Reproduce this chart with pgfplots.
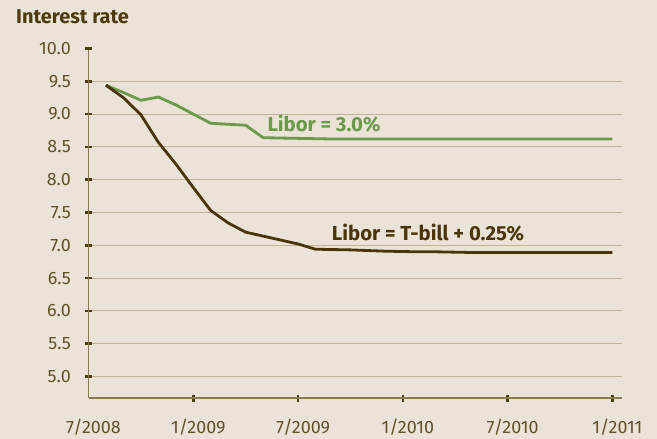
\documentclass[border=0pt]{standalone}
\usepackage{fontspec}
\setmainfont{Fira Sans}
\usepackage{pgfplots}
\pgfplotsset{compat=1.18}
\definecolor{bgcol}{HTML}{EBE3D7}
\definecolor{greencol}{HTML}{6A9A4A}
\definecolor{browncol}{HTML}{4A3508}
\definecolor{titlecol}{HTML}{4F3A0E}
\definecolor{labcol}{HTML}{62512A}
\definecolor{gridcol}{HTML}{C3B394}
\definecolor{axiscol}{HTML}{8A7A50}
\definecolor{tickcol}{HTML}{4A3A10}
\begin{document}
\begin{tikzpicture}
\fill[bgcol] (-88.5bp,-41bp) rectangle (568.5bp,398bp);
\node[anchor=base west, inner sep=0pt, text=titlecol, font=\fontsize{20}{24}\selectfont\bfseries] at (-72.5bp,374.7bp) {Interest rate};
\begin{axis}[
  at={(0,0)}, anchor=south west,
  scale only axis, width=533.5bp, height=349.5bp,
  xmin=0, xmax=30.55, ymin=4.672, ymax=10,
  clip=false,
  axis x line=bottom, axis y line=left,
  axis line style={-, draw=axiscol, line width=1.1bp},
  ytick={5,5.5,6,6.5,7,7.5,8,8.5,9,9.5},
  yticklabels={5.0,5.5,6.0,6.5,7.0,7.5,8.0,8.5,9.0,9.5},
  extra y ticks={10}, extra y tick labels={10.0},
  extra y tick style={grid=none},
  xtick={0,6,12,18,24,30},
  xticklabels={7/2008,1/2009,7/2009,1/2010,7/2010,1/2011},
  major x tick style={draw=none},
  minor xtick={6,12,18,24,30},
  minor tick length=7bp,
  minor x tick style={draw=tickcol, line width=2.6bp},
  ymajorgrids=true,
  major grid style={draw=gridcol, line width=0.9bp},
  tick align=center,
  major tick length=7bp,
  tick style={draw=tickcol, line width=2.6bp},
  yticklabel style={font=\fontsize{18}{20}\selectfont, text=labcol, anchor=east, inner sep=0pt, xshift=-14bp},
  xticklabel style={font=\fontsize{18}{20}\selectfont, text=labcol, anchor=north, inner sep=0pt, yshift=-17bp, xshift=5bp},
]
\addplot[greencol, line width=2.8bp, line join=round] coordinates {
(1,9.44) (2,9.33) (3,9.21) (4,9.26) (5,9.14) (6,9.00) (7,8.86) (8,8.845) (9,8.83)
(10,8.64) (11,8.635) (12,8.63) (13,8.625) (14,8.62) (15,8.62) (16,8.62) (17,8.62)
(18,8.62) (19,8.62) (20,8.62) (21,8.62) (22,8.62) (23,8.62) (24,8.62) (25,8.62)
(26,8.62) (27,8.62) (28,8.62) (29,8.62) (30,8.62)};
\addplot[browncol, line width=2.8bp, line join=round] coordinates {
(1,9.44) (2,9.25) (3,8.99) (4,8.57) (5,8.24) (6,7.88) (7,7.53) (8,7.34) (9,7.20)
(10,7.14) (11,7.08) (12,7.02) (13,6.94) (14,6.935) (15,6.93) (16,6.92) (17,6.91)
(18,6.905) (19,6.90) (20,6.90) (21,6.895) (22,6.89) (23,6.89) (24,6.89) (25,6.89)
(26,6.89) (27,6.89) (28,6.89) (29,6.89) (30,6.89)};
\node[anchor=base west, inner sep=0pt, text=greencol, font=\fontsize{20.4}{24}\selectfont\bfseries] at (axis cs:10.24,8.742) {Libor = 3.0\%};
\node[anchor=base west, inner sep=0pt, text=browncol, font=\fontsize{20.4}{24}\selectfont\bfseries] at (axis cs:13.93,7.07) {Libor = T-bill + 0.25\%};
\end{axis}
\end{tikzpicture}
\end{document}
